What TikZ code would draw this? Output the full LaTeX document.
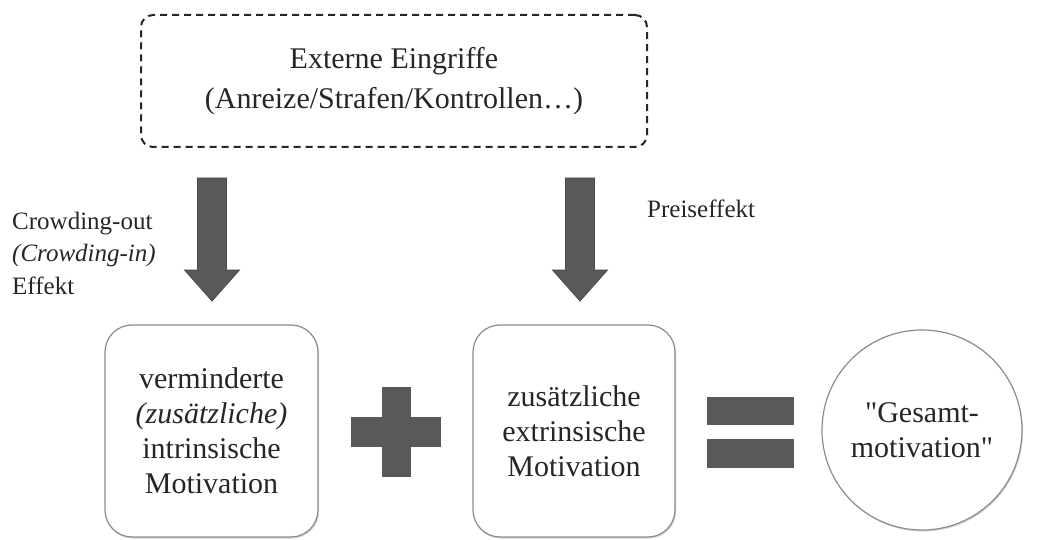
\documentclass[tikz,border=0pt]{standalone}
\usepackage{fontspec}
\setmainfont{Liberation Serif}[Ligatures=TeXOff]
\usetikzlibrary{shadows}
\definecolor{txtgray}{HTML}{262626}
\definecolor{blockgray}{HTML}{595959}
\definecolor{framegray}{HTML}{8C8C8C}
\tikzset{
    motbox/.style={draw=framegray,line width=1.2pt,fill=white,rounded corners=27pt,
        align=center,inner sep=0pt,text=txtgray,font=\fontsize{30}{35}\selectfont,
        drop shadow={shadow xshift=1pt,shadow yshift=-1.5pt,opacity=0.35}},
    sidelabel/.style={inner sep=0pt,text=txtgray,align=left,font=\fontsize{25}{32.5}\selectfont},
    blockfill/.style={fill=blockgray,draw=blockgray!80!black,line width=0.8pt}
}
\begin{document}
\begin{tikzpicture}[x=1pt,y=-1pt]
    \useasboundingbox (0,0) rectangle (1049,540);
    % Eingriffe oben
    \node[draw=black!85,line width=2pt,dash pattern=on 7pt off 5pt,rounded corners=12pt,
        minimum width=506pt,minimum height=132pt,align=center,text=txtgray,
        font=\fontsize{30}{40}\selectfont] (ext) at (394,81)
        {Externe Eingriffe\\(Anreize/Strafen/Kontrollen\dots)};
    % Blockpfeile
    \foreach \ax in {212,580}
        \filldraw[blockfill] ({\ax-14.5},178) -- ({\ax+14.5},178) -- ({\ax+14.5},270)
            -- ({\ax+27.5},270) -- (\ax,301) -- ({\ax-27.5},270) -- ({\ax-14.5},270) -- cycle;
    \node[sidelabel,anchor=west] (crowd) at (12,253)
        {Crowding-out\\\textit{(Crowding-in)}\\Effekt};
    \node[sidelabel,anchor=base west] (preis) at (647,218) {Preiseffekt};
    % untere Reihe
    \node[motbox,minimum width=213pt,minimum height=212pt] (intr) at (211.5,431)
        {verminderte\\\textit{(zusätzliche)}\\intrinsische\\Motivation};
    \node[motbox,minimum width=202pt,minimum height=212pt] (extr) at (574,431)
        {zusätzliche\\extrinsische\\Motivation};
    \node[motbox,circle,minimum size=200pt,rounded corners=0pt] (gesamt) at (922,430)
        {"Gesamt-\\motivation"};
    % Plus und Gleich
    \fill[blockgray] (351,417) rectangle (441,447);
    \fill[blockgray] (382,387) rectangle (411,477);
    \fill[blockgray] (707,397) rectangle (794,425);
    \fill[blockgray] (707,439) rectangle (794,468);
\end{tikzpicture}
\end{document}
